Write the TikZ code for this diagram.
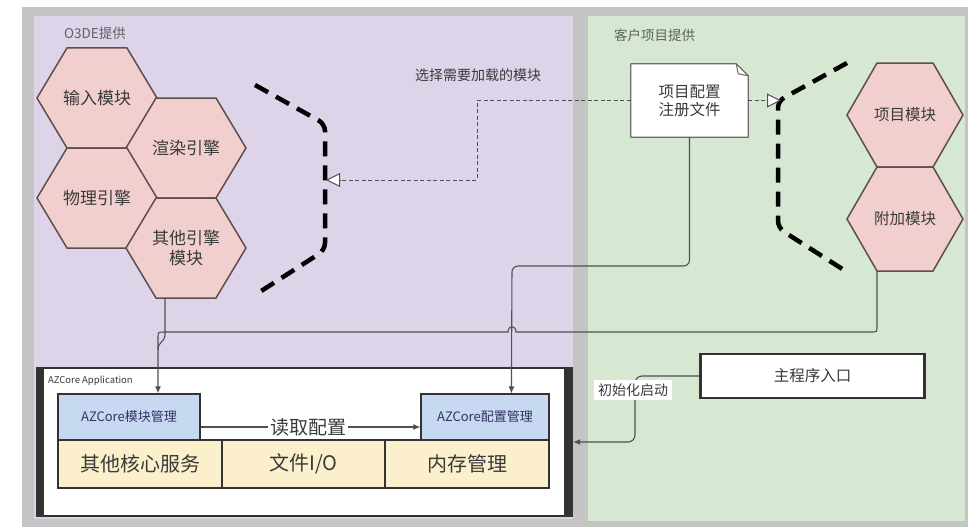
\documentclass[tikz,border=0pt]{standalone}
\usepackage{fontspec}
\setmainfont{Noto Sans CJK SC}
\usetikzlibrary{arrows.meta,calc}
\definecolor{gframe}{HTML}{C4C4C4}
\definecolor{purp}{HTML}{DDD4EA}
\definecolor{grn}{HTML}{D6E8D1}
\definecolor{hexfill}{HTML}{F2CFCF}
\definecolor{hexline}{HTML}{5E4E4E}
\definecolor{txt}{HTML}{3A3A3A}
\definecolor{lnc}{HTML}{505050}
\definecolor{bluef}{HTML}{C7D8F1}
\definecolor{yelf}{HTML}{FCEFCB}
\definecolor{boxline}{HTML}{333333}
\newcommand\hexnode[7]{%
  \draw[hexshape] (#2,#3) ++(-#4,0) -- ++(#4-#5,-#6) -- ++(2*#5,0) -- ++(#4-#5,#6) -- ++(-#4+#5,#6) -- ++(-2*#5,0) -- cycle;
  \node[hextext] (#1) at (#2,#3) {#7};}
\begin{document}
\begin{tikzpicture}[x=1pt,y=-1pt,
  hexshape/.style={fill=hexfill,draw=hexline,line width=1.5pt,line join=miter},
  hextext/.style={text=txt,font=\fontsize{17}{20}\selectfont,align=center,inner sep=0pt},
  conn/.style={draw=lnc,line width=1.1pt},
  dconn/.style={draw=lnc,line width=1pt,dash pattern=on 4pt off 2.5pt},
  opentip/.style={-{Triangle[length=14pt,width=14pt,fill=white]}},
  solidtip/.style={-{Latex[length=7pt,width=6pt]}},
  bracket/.style={draw=black,line width=4.5pt,dash pattern=on 15pt off 9pt,rounded corners=7pt},
  bluebox/.style={draw=boxline,fill=bluef,line width=1.2pt,minimum height=46pt,inner sep=0pt,text=black!70!blue!60!gray,font=\fontsize{13}{15}\selectfont},
  yelbox/.style={draw=boxline,fill=yelf,line width=1.6pt,minimum height=48pt,inner sep=0pt,text=txt,font=\fontsize{20}{22}\selectfont},
  paneltxt/.style={anchor=west,text=txt!80,font=\fontsize{13.5}{16}\selectfont,inner sep=0pt}
]
\useasboundingbox (0,0) rectangle (968,527);
\fill[white] (0,0) rectangle (968,527);
\fill[gframe] (22,7) rectangle (968,527);
\fill[purp] (34,16) rectangle (573,519);
\fill[grn] (588,16) rectangle (965,521);

\node[paneltxt] (lblo) at (64,33) {O3DE提供};
\node[paneltxt] (lblc) at (614,35) {客户项目提供};

% hexagons
\hexnode{h1}{97}{98}{60}{30}{50}{输入模块}
\hexnode{h2}{186}{148}{60}{30}{50}{渲染引擎}
\hexnode{h3}{97}{198}{60}{30}{50}{物理引擎}
\hexnode{h4}{186}{248}{60}{30}{50}{其他引擎\\模块}
\hexnode{h5}{905}{115}{58}{28}{52}{\fontsize{15.5}{18}\selectfont 项目模块}
\hexnode{h6}{905}{219}{58}{28}{52}{\fontsize{15.5}{18}\selectfont 附加模块}

% brackets
\draw[bracket] (255,85) -- (325,124) -- (325,250) -- (255,295);
\draw[bracket] (847,63) -- (778,101) -- (778,228) -- (847,272);

% config file
\path node[minimum width=117pt,minimum height=73pt,inner sep=0pt] (cfg) at (689.5,100.5) {};
\draw[draw=gray!85!black,fill=white,line width=1.2pt,line join=round]
  (cfg.south west) -- (cfg.north west) -- ($(cfg.north east)+(-12,0)$) -- ($(cfg.north east)+(0,12)$) -- (cfg.south east) -- cycle;
\draw[draw=gray!85!black,line width=1pt] ($(cfg.north east)+(-12,0)$) -- ($(cfg.north east)+(-10,10)$) -- ($(cfg.north east)+(0,12)$);
\node[text=txt,font=\fontsize{15.5}{18}\selectfont,align=center,inner sep=0pt] (cfgtxt) at (cfg) {项目配置\\注册文件};

\node[text=txt,font=\fontsize{14}{16}\selectfont,inner sep=0pt] (sel) at (478,75) {选择需要加载的模块};

\coordinate (lbr) at (326,180);
\coordinate (rbr) at (781,100.5);
\draw[dconn,opentip] (cfg.west) -| (477,180) -- (lbr);
\draw[dconn,opentip] (cfg.east) -- (rbr);

% AZCore container
\node[draw=boxline,fill=white,line width=2pt,minimum width=535pt,minimum height=148pt,inner sep=0pt] (az) at (304.5,442) {};
\fill[boxline] (az.north west) rectangle ++(8,148);
\fill[boxline] ($(az.north east)+(-9,0)$) rectangle (az.south east);
\node[anchor=west,text=txt,font=\fontsize{9.5}{11}\selectfont,inner sep=0pt] (azlbl) at (48,381) {AZCore Application};

\node[yelbox,minimum width=164pt] (y1) at (140,464) {其他核心服务};
\node[yelbox,minimum width=163pt] (y2) at (303.5,464) {文件I/O};
\node[yelbox,minimum width=164pt] (y3) at (467,464) {内存管理};
\node[bluebox,minimum width=142pt] (cm1) at (129,417) {AZCore模块管理};
\node[bluebox,minimum width=128pt] (cm2) at (485,417) {AZCore配置管理};

\draw[conn,solidtip] ($(cm1.east)+(0,10)$) -- ($(cm2.west)+(0,10)$);
\node[fill=white,inner sep=2pt,text=txt,font=\fontsize{19}{22}\selectfont] (read) at (308,427) {读取配置};

% connectors to AZCore boxes
\draw[conn,rounded corners=6pt,solidtip] (cfg.south) |- (512,266) -- ($(cm2.north west)+(91,0)$);
\draw[conn,solidtip] ($(h6)+(-28,52)$) -- (877,326) .. controls (877,332) .. (871,332) -- (516,332)
   .. controls (516,325) and (508,325) .. (508,332) -- (164,332) .. controls (158,332) .. (158,338)
   -- ($(cm1.north)+(29,0)$);
\draw[conn] ($(h4)+(-21,50)$) -- (165,334) .. controls (165,343) and (158,341) .. (158,350);

% main entry
\node[draw=boxline,fill=white,line width=1.2pt,minimum width=225pt,minimum height=44pt,inner sep=0pt,text=txt,font=\fontsize{15.5}{18}\selectfont] (main) at (812.5,376) {主程序入口};
\fill[boxline] (main.north west) rectangle ++(3,44);
\fill[boxline] ($(main.north east)+(-3,0)$) rectangle (main.south east);
\draw[conn,rounded corners=7pt,solidtip] (main.west) -- (635,376) -- (635,442) -- (az.east);
\node[fill=white,inner sep=4pt,text=txt,font=\fontsize{14}{16}\selectfont] (init) at (633,390) {初始化启动};
\end{tikzpicture}
\end{document}
